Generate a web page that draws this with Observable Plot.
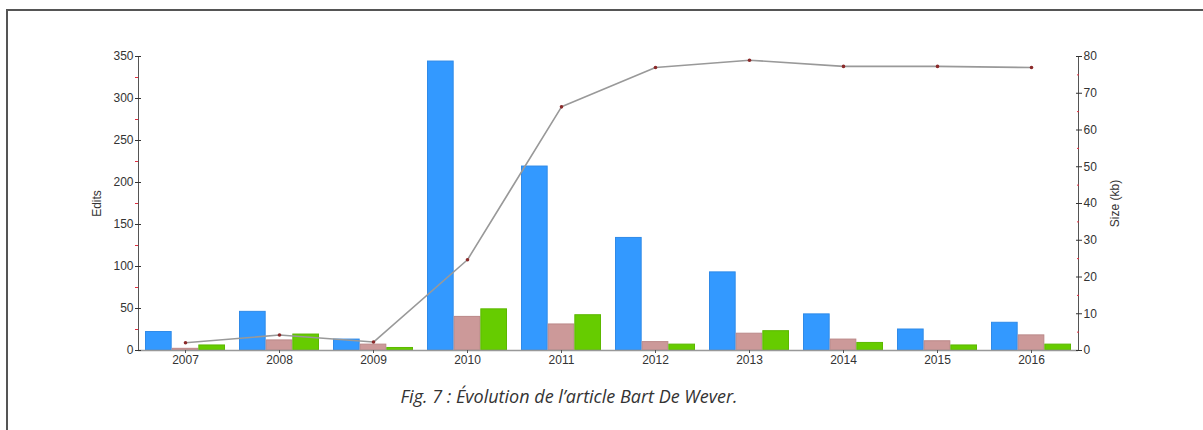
<!DOCTYPE html>
<html>
<head>
<meta charset="utf-8">
<script src="https://cdn.jsdelivr.net/npm/d3@7"></script>
<script src="https://cdn.jsdelivr.net/npm/@observablehq/plot@0.6"></script>
<style>
  html, body { margin: 0; padding: 0; background: #fff; width: 1203px; height: 430px; overflow: hidden; }
  #frame { position: absolute; left: 6px; top: 9px; width: 1300px; height: 500px;
           border-top: 2px solid #555; border-left: 2px solid #555; }
  #chart { position: absolute; left: 0; top: 0; }
  #caption { position: absolute; top: 384px; left: 0; width: 1138px; text-align: center;
             font: italic 18px "Open Sans", "Noto Sans", sans-serif; color: #333; }
</style>
</head>
<body>
<div id="frame"></div>
<div id="chart"></div>
<div id="caption">Fig. 7 : Évolution de l’article Bart De Wever.</div>
<script>
const years = ["2007","2008","2009","2010","2011","2012","2013","2014","2015","2016"];
const seriesNames = ["A","B","C"];
const editsA = [22, 46, 13, 344, 219, 134, 93, 43, 25, 33];
const editsB = [2, 12, 7, 40, 31, 10, 20, 13, 11, 18];
const editsC = [6, 19, 3, 49, 42, 7, 23, 9, 6, 7];
const sizeKb = [2.1, 4.2, 2.3, 24.7, 66.3, 77.0, 79.0, 77.3, 77.3, 77.0];
const editTicks = [0, 50, 100, 150, 200, 250, 300, 350];
const editMinor = [25, 75, 125, 175, 225, 275, 325];
const sizeTicks = [0, 10, 20, 30, 40, 50, 60, 70, 80];
const sizeMinor = [5, 15, 25, 35, 45, 55, 65, 75];

const editMax = 350, sizeMax = 80;
const k = editMax / sizeMax; // size -> edit units

const fills = {A: "#3399ff", B: "#cc9999", C: "#66cc00"};
const strokes = {A: "#2f8ae8", B: "#bb8888", C: "#5cb800"};

const W = 1203, H = 375;
const mL = 138, mR = W - 1078, mT = 56, mB = H - 350;
const band = (W - mL - mR) / years.length;
const groupPad = 7;
const barW = (band - 2 * groupPad) / 3;

const bars = [];
[editsA, editsB, editsC].forEach((arr, i) => {
  arr.forEach((v, j) => bars.push({year: years[j], s: seriesNames[i], i, v}));
});
const sizes = years.map((y, j) => ({year: y, kb: sizeKb[j]}));

const barMarks = seriesNames.map((s, i) => Plot.barY(bars.filter(d => d.s === s), {
  x: "year", y: "v",
  fill: fills[s], stroke: strokes[s], strokeWidth: 1,
  insetLeft: groupPad + i * barW + 0.5,
  insetRight: band - groupPad - (i + 1) * barW + 0.5
}));

const chart = Plot.plot({
  width: W, height: H,
  marginLeft: mL, marginRight: mR, marginTop: mT, marginBottom: mB,
  style: {fontFamily: "'Liberation Sans', Arial, sans-serif", fontSize: "12px", color: "#333", background: "transparent"},
  x: {type: "band", domain: years, padding: 0},
  y: {domain: [0, editMax]},
  marks: [
    ...barMarks,
    Plot.ruleY([0], {stroke: "#999", strokeWidth: 1.5}),
    Plot.frame({anchor: "left", stroke: "#555"}),
    Plot.frame({anchor: "right", stroke: "#555"}),
    Plot.line(sizes, {x: "year", y: d => d.kb * k, stroke: "#999", strokeWidth: 1.6}),
    Plot.dot(sizes, {x: "year", y: d => d.kb * k, r: 1.8, fill: "#8b2a2a"}),
    Plot.axisX({tickSize: 3, tickPadding: 2, label: null, stroke: "#555", fill: "#333"}),
    Plot.axisY({anchor: "left", ticks: editTicks, tickSize: 6, dx: 3, tickPadding: 2,
      label: "Edits", labelArrow: "none", labelAnchor: "center", labelOffset: 46, fill: "#333"}),
    Plot.axisY({anchor: "left", ticks: editMinor, tickSize: 3, stroke: "#e03040", text: null, label: null}),
    Plot.axisY({anchor: "right", ticks: sizeTicks.map(v => v * k), tickFormat: d => Math.round(d / k),
      tickSize: 6, dx: -3, tickPadding: 2, label: "Size (kb)", labelArrow: "none", labelAnchor: "center", labelOffset: 40, fill: "#333"}),
    Plot.axisY({anchor: "right", ticks: sizeMinor.map(v => v * k), tickSize: 2, dx: -2,
      stroke: "#e03040", text: null, label: null})
  ]
});
document.getElementById("chart").appendChild(chart);
</script>
</body>
</html>
